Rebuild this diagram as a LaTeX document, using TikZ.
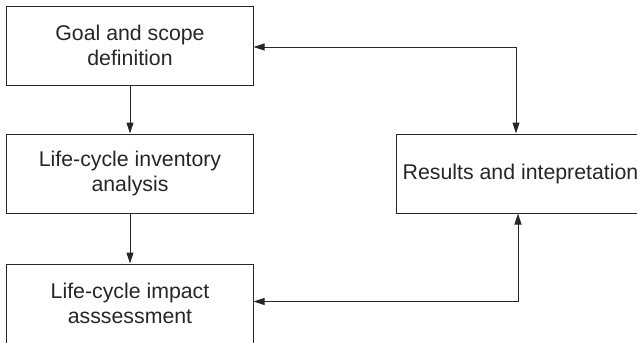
\documentclass[tikz,border=0pt]{standalone}
\usepackage{fontspec}
\setmainfont{Liberation Sans}
\usetikzlibrary{arrows.meta}
\begin{document}
\begin{tikzpicture}[x=1bp,y=-1bp,
  box/.style={draw=black!85, line width=1bp, rectangle, minimum width=246bp, minimum height=79bp,
    inner sep=0pt, align=center, font=\fontsize{21.3bp}{25bp}\selectfont, text=black!85},
  conn/.style={draw=black!85, line width=1bp, -{Triangle[length=11bp,width=7bp]}},
  dconn/.style={draw=black!85, line width=1bp, {Triangle[length=11bp,width=7bp]}-{Triangle[length=11bp,width=7bp]}}]
\clip (0,0) rectangle (637,342);
\useasboundingbox (0,0) rectangle (637,342);
\node[box] (g) at (130,45.5) {Goal and scope\\definition};
\node[box] (l) at (130,173.5) {Life-cycle inventory\\analysis};
\node[box] (a) at (130,303.5) {Life-cycle impact\\asssessment};
\node[box, minimum width=249bp] (r) at (520.5,173.5) {Results and intepretation};
\coordinate (c1) at (516,47);
\coordinate (c2) at (518,301.5);
\draw[conn] (g.south) -- (l.north);
\draw[conn] (l.south) -- (a.north);
\draw[dconn] (g.east |- c1) -- (c1) -- (c1 |- r.north);
\draw[dconn] (a.east |- c2) -- (c2) -- (c2 |- r.south);
\end{tikzpicture}
\end{document}
